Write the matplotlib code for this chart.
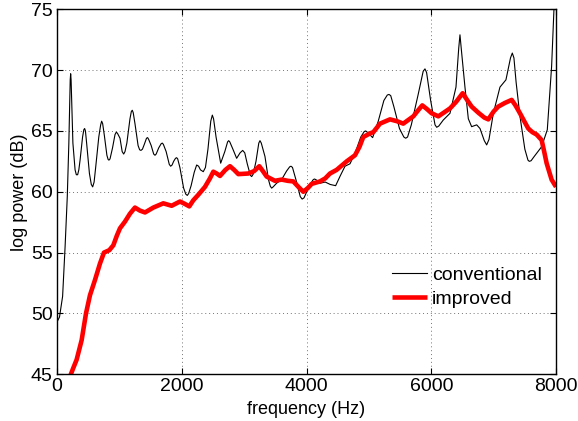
import numpy as np
import matplotlib
matplotlib.use("Agg")
import matplotlib.pyplot as plt

plt.rcParams['font.family'] = ['Liberation Sans', 'DejaVu Sans']

# conventional spectrum
conv_hz = [0, 40, 90, 130, 165, 190, 205, 212, 219, 226, 235, 255, 290, 310, 331, 350, 370,
           410, 430, 443, 456, 475, 520, 550, 572, 595, 620, 670, 700, 716, 732, 760, 800,
           820, 833, 850, 890, 930, 951, 970, 1010, 1045, 1069, 1090, 1120, 1170, 1192,
           1207, 1222, 1250, 1300, 1325, 1346, 1370, 1400, 1435, 1453, 1470, 1510, 1550,
           1571, 1590, 1630, 1670, 1688, 1705, 1750, 1800, 1822, 1845, 1870, 1900, 1918,
           1935, 1970, 2030, 2065, 2089, 2110, 2150, 2200, 2239, 2270, 2300, 2345, 2380,
           2420, 2465, 2490, 2510, 2550, 2624, 2690, 2735, 2752, 2770, 2820, 2880, 2935,
           2977, 3010, 3050, 3100, 3121, 3145, 3190, 3235, 3254, 3275, 3334, 3390, 3420,
           3441, 3465, 3520, 3601, 3680, 3730, 3751, 3775, 3830, 3900, 3930, 3960, 4020,
           4100, 4125, 4150, 4216, 4300, 4380, 4467, 4540, 4617, 4697, 4780, 4870, 4925,
           4948, 4975, 5060, 5150, 5240, 5295, 5322, 5350, 5400, 5490, 5560, 5590, 5620,
           5680, 5790, 5870, 5899, 5925, 5990, 6060, 6087, 6120, 6193, 6300, 6396, 6440,
           6460, 6480, 6540, 6594, 6647, 6728, 6781, 6850, 6888, 6925, 6995, 7101, 7197,
           7270, 7299, 7325, 7360, 7422, 7500, 7550, 7571, 7600, 7650, 7769, 7860, 7929,
           7966, 8000]
conv_db = [49.3, 49.7, 51.4, 55.5, 59.6, 64.0, 67.5, 69.2, 69.7, 69.2, 67.5, 64.0, 61.8,
           61.4, 61.4, 61.8, 62.6, 64.5, 65.1, 65.2, 65.0, 64.0, 61.5, 60.6, 60.4, 60.8,
           62.0, 64.5, 65.5, 65.8, 65.6, 64.6, 63.0, 62.65, 62.6, 62.7, 63.6, 64.7, 64.9,
           64.8, 64.4, 63.3, 63.1, 63.3, 64.0, 66.0, 66.6, 66.7, 66.5, 65.6, 63.8, 63.45,
           63.4, 63.5, 63.9, 64.4, 64.45, 64.3, 63.8, 63.1, 63.0, 63.1, 63.6, 63.95, 64.0,
           63.9, 63.3, 62.25, 62.1, 62.2, 62.5, 62.75, 62.8, 62.7, 62.0, 60.3, 59.8, 59.7,
           59.85, 60.5, 61.6, 62.2, 62.1, 61.8, 61.65, 62.0, 63.5, 65.8, 66.3, 66.0, 64.5,
           62.35, 63.3, 64.1, 64.2, 64.1, 63.5, 62.75, 63.2, 63.4, 63.2, 62.3, 61.35, 61.25,
           61.45, 62.5, 64.0, 64.2, 64.0, 62.9, 61.0, 60.45, 60.3, 60.4, 60.7, 61.0, 61.7,
           62.05, 62.1, 62.0, 61.0, 59.6, 59.4, 59.5, 60.2, 60.95, 61.05, 61.0, 60.7, 60.8,
           60.6, 60.5, 61.3, 62.1, 62.3, 63.2, 64.5, 64.95, 65.0, 64.9, 64.45, 65.8, 67.5,
           67.95, 68.0, 67.9, 67.0, 65.2, 64.5, 64.4, 64.5, 65.5, 68.0, 69.9, 70.1, 69.8,
           67.5, 65.5, 65.3, 65.4, 65.9, 66.45, 68.6, 71.8, 72.9, 71.8, 68.6, 66.0, 65.35,
           65.5, 65.2, 64.2, 63.85, 64.3, 66.45, 68.6, 69.2, 71.0, 71.4, 71.0, 69.0, 66.2,
           63.5, 62.6, 62.5, 62.55, 62.9, 63.7, 65.1, 70.3, 74.9, 78.0]

# improved spectrum
impr_hz = [200, 260, 315, 395, 465, 529, 609, 689, 753, 839, 903, 960, 1010, 1090, 1170,
           1250, 1330, 1411, 1544, 1704, 1838, 1972, 2050, 2121, 2185, 2265, 2372, 2452,
           2506, 2560, 2613, 2700, 2773, 2840, 2907, 3067, 3160, 3243, 3300, 3361, 3494,
           3601, 3700, 3788, 3870, 3948, 4020, 4083, 4216, 4300, 4376, 4483, 4644, 4777,
           4850, 4910, 5018, 5071, 5178, 5338, 5450, 5551, 5712, 5790, 5856, 5930, 6006,
           6113, 6200, 6300, 6400, 6503, 6580, 6647, 6754, 6850, 6914, 7000, 7074, 7180,
           7289, 7350, 7422, 7490, 7555, 7620, 7689, 7769, 7810, 7849, 7929, 8000]
impr_db = [44.7, 45.5, 46.2, 47.8, 50.0, 51.5, 52.75, 54.1, 55.0, 55.2, 55.6, 56.4, 57.0,
           57.55, 58.2, 58.7, 58.45, 58.3, 58.7, 59.05, 58.85, 59.2, 59.0, 58.8, 59.3,
           59.75, 60.4, 61.1, 61.65, 61.5, 61.3, 61.8, 62.1, 61.8, 61.45, 61.5, 61.7,
           62.1, 61.7, 61.25, 60.9, 61.0, 60.9, 60.85, 60.4, 60.0, 60.3, 60.65, 60.85,
           61.1, 61.5, 61.8, 62.5, 63.0, 63.7, 64.5, 64.8, 64.9, 65.6, 65.95, 65.8, 65.6,
           66.2, 66.7, 67.1, 66.8, 66.45, 66.2, 66.5, 66.85, 67.4, 68.1, 67.5, 67.0, 66.5,
           66.1, 65.95, 66.6, 67.0, 67.3, 67.55, 67.1, 66.45, 65.8, 65.2, 64.9, 64.7,
           64.25, 63.3, 62.35, 61.0, 60.4]

x_ticks = [0, 2000, 4000, 6000, 8000]
y_ticks = [45, 50, 55, 60, 65, 70, 75]

fig = plt.figure(figsize=(5.78, 4.21), dpi=100)
ax = fig.add_axes([0.0986, 0.111, 0.8634, 0.867])

ax.plot(conv_hz, conv_db, color='black', lw=0.8, label='conventional',
        solid_joinstyle='round')
ax.plot(impr_hz, impr_db, color='red', lw=3.3, label='improved',
        solid_joinstyle='round', solid_capstyle='butt')

ax.set_xlim(0, 8000)
ax.set_ylim(45, 75)
ax.set_xticks(x_ticks)
ax.set_yticks(y_ticks)
ax.grid(True, color='0.45', linestyle=(0, (1, 3)), linewidth=0.7)
ax.tick_params(direction='in', top=True, right=True, length=4, labelsize=14, pad=3)
for s in ax.spines.values():
    s.set_linewidth(1.0)

ax.set_xlabel('frequency (Hz)', fontsize=13, labelpad=4)
ax.set_ylabel('log power (dB)', fontsize=13, labelpad=2)

ax.legend(loc='upper left', bbox_to_anchor=(0.672, 0.295), frameon=False, fontsize=14,
          handlelength=1.8, handletextpad=0.25, borderpad=0, borderaxespad=0,
          labelspacing=0.3)

fig.savefig('out.png', dpi=100)
